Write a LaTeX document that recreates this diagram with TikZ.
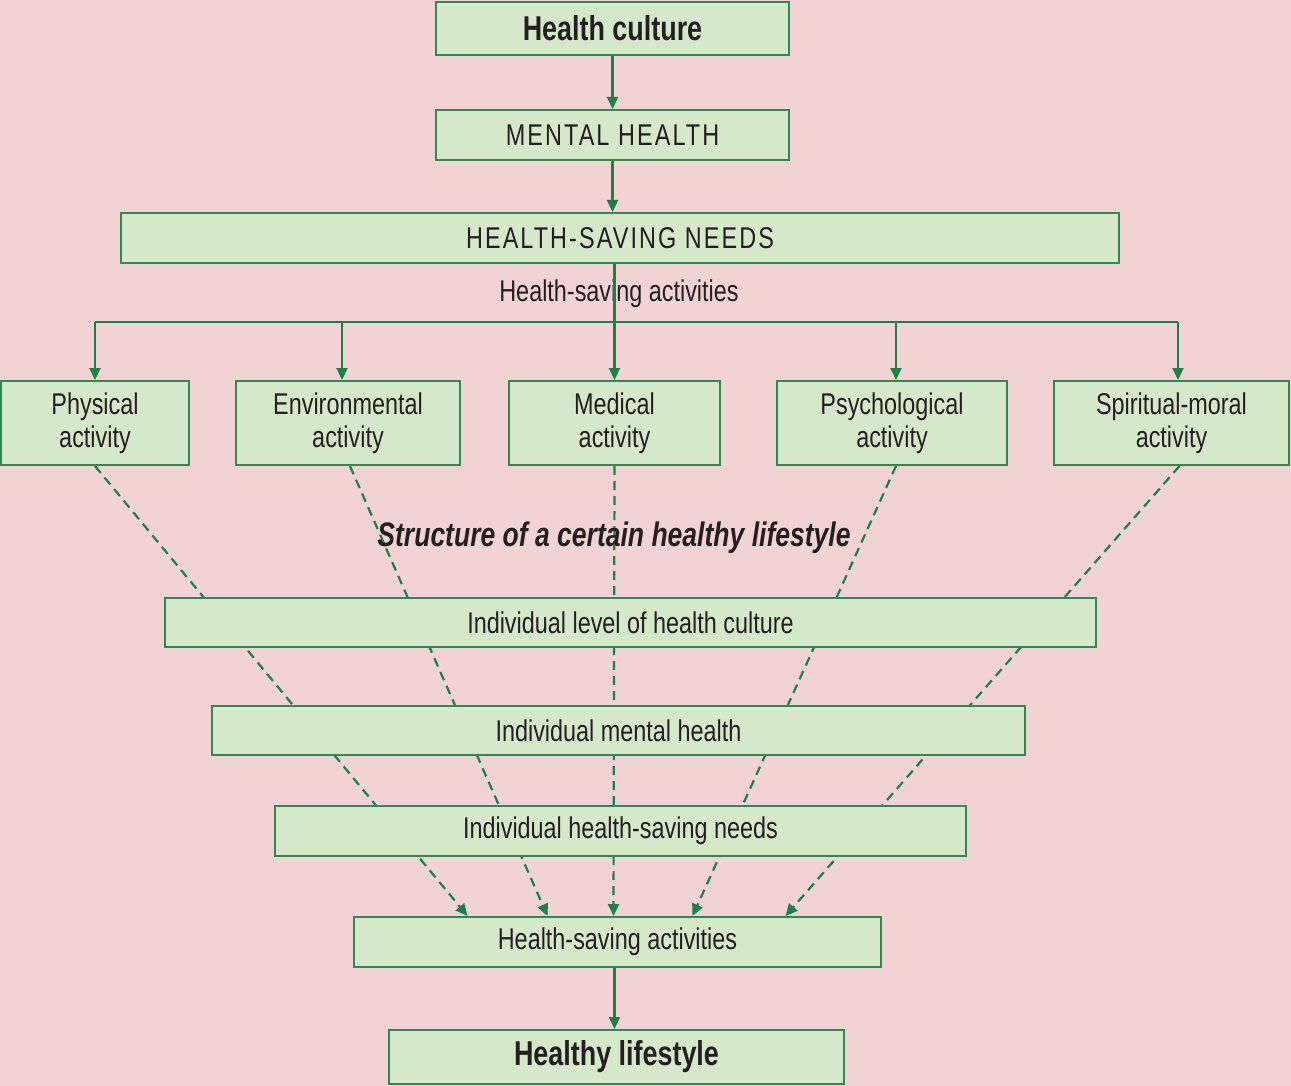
\documentclass[tikz,border=0pt]{standalone}
\usepackage{fontspec}
\setmainfont{Liberation Sans}[FakeStretch=0.78]
\newfontfamily\spacedfont{Liberation Sans}[FakeStretch=0.78,LetterSpace=7]
\usetikzlibrary{arrows.meta}
\definecolor{bgpink}{HTML}{F2D3D4}
\definecolor{boxfill}{HTML}{D5E8C9}
\definecolor{boxgreen}{HTML}{2C8A52}
\definecolor{linkgreen}{HTML}{1B8049}
\definecolor{inkgray}{HTML}{231F20}
\pgfdeclarelayer{bg}
\pgfdeclarelayer{links}
\pgfsetlayers{bg,links,main}

\begin{document}
\begin{tikzpicture}[x=1pt,y=-1pt,>={Triangle[length=12pt,width=11pt]},
  every node/.style={text=inkgray,font=\fontsize{30}{33}\selectfont},
  box/.style={draw=boxgreen,fill=boxfill,line width=2pt,inner sep=0pt,align=center},
  title/.style={font=\fontsize{34.5}{38}\selectfont\bfseries},
  caps/.style={font=\fontsize{30}{33}\selectfont\spacedfont},
  link/.style={draw=linkgreen,line width=2.2pt},
  dashlink/.style={link,dash pattern=on 9pt off 6pt}]
  \useasboundingbox (0,0) rectangle (1291,1086);
  \begin{pgfonlayer}{bg}
    \fill[bgpink] (0,0) rectangle (1291,1086);
  \end{pgfonlayer}

  % upper chain
  \node[box,title,minimum width=353,minimum height=53] (hc) at (612.5,28.5) {Health culture};
  \node[box,caps,minimum width=353,minimum height=50] (mh) at (612.5,135) {MENTAL HEALTH};
  \node[box,caps,minimum width=998,minimum height=50] (hsn) at (620,238) {HEALTH-SAVING NEEDS};
  \node (hslabel) at (619,294) {Health-saving activities};

  % kinds of activity
  \node[box,minimum width=188,minimum height=84] (phys) at (95,423) {Physical\\activity};
  \node[box,minimum width=224,minimum height=84] (env) at (348,423) {Environmental\\activity};
  \node[box,minimum width=211,minimum height=84] (med) at (614.5,423) {Medical\\activity};
  \node[box,minimum width=230,minimum height=84] (psy) at (892,423) {Psychological\\activity};
  \node[box,minimum width=235,minimum height=84] (spir) at (1171.5,423) {Spiritual-moral\\activity};

  \node[font=\fontsize{34}{38}\selectfont\bfseries\itshape] (struct) at (614,538) {Structure of a certain healthy lifestyle};

  % individual levels
  \node[box,minimum width=931,minimum height=49] (ilh) at (630.5,622.5) {Individual level of health culture};
  \node[box,minimum width=813,minimum height=49] (imh) at (618.5,730.5) {Individual mental health};
  \node[box,minimum width=691,minimum height=50] (ihn) at (620.5,831) {Individual health-saving needs};
  \node[box,minimum width=527,minimum height=50] (hsa) at (617.5,942) {Health-saving activities};
  \node[box,title,minimum width=455,minimum height=54] (hl) at (616.5,1057) {Healthy lifestyle};

  \draw[link,->] (hc.south) -- (mh.north);
  \draw[link,->] (mh.south) -- (mh.south |- hsn.north);
  \draw[link,->] (med.north |- hsn.south) -- (med.north);

  % distribution bar
  \foreach \bx/\act in {95/phys,342/env,613/med,896/psy,1178/spir}
    \coordinate (bar-\act) at (\bx,322);
  \draw[link] (bar-phys) -- (bar-spir);
  \foreach \act in {phys,env,psy,spir}
    \draw[link,->] (bar-\act) -- (bar-\act |- \act.north);

  \begin{pgfonlayer}{links}
    \foreach \act/\sx/\ex in {phys/0/-150,env/2/-70,med/0/-4,psy/4/75,spir/8/168}
      \draw[dashlink,->] ([xshift=\sx]\act.south) -- ([xshift=\ex]hsa.north);
  \end{pgfonlayer}

  \draw[link,->] (med.south |- hsa.south) -- (med.south |- hl.north);
\end{tikzpicture}
\end{document}
